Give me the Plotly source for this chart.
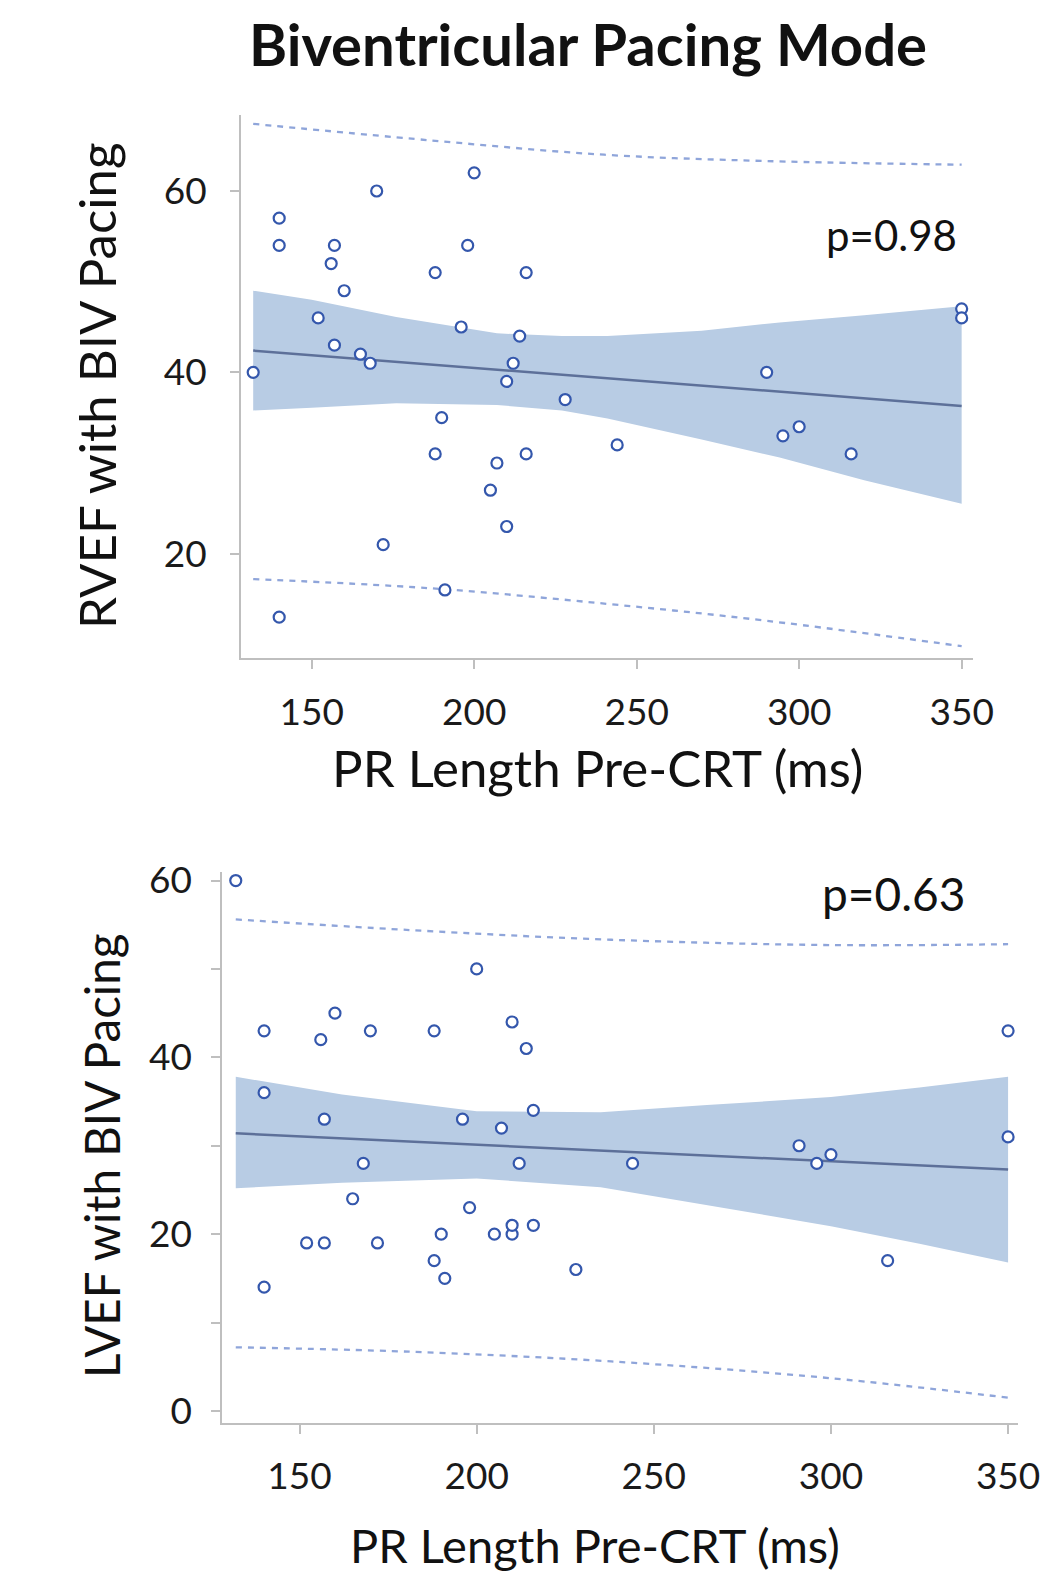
import plotly.graph_objects as go

# ---------------- data ----------------
# Top panel: RVEF vs PR length
pr_top = [132, 140, 140, 170, 200, 157, 156, 198, 188, 216, 160, 152, 196, 214, 157, 165, 168, 212,
          210, 228, 190, 188, 216, 207, 205, 210, 172, 191, 140, 244, 295, 300, 316, 290, 350, 350]
rvef = [40, 57, 54, 60, 62, 54, 52, 54, 51, 51, 49, 46, 45, 44, 43, 42, 41, 41,
        39, 37, 35, 31, 31, 30, 27, 23, 21, 16, 13, 32, 33, 34, 31, 40, 47, 46]
fit_top_x = [132, 350]
fit_top_y = [42.4, 36.3]
band_top_x = [132, 150, 176, 207, 227, 241, 270, 294, 320, 350]
band_top_hi = [49.0, 48.0, 46.1, 44.3, 44.0, 44.0, 44.6, 45.5, 46.3, 47.3]
band_top_lo = [35.8, 36.1, 36.6, 36.4, 35.8, 34.9, 32.6, 30.6, 28.1, 25.5]
pred_top_x = [132, 186, 240, 290, 350]
pred_top_hi = [67.4, 65.6, 64.0, 63.3, 62.9]
pred_top_lo = [17.2, 16.2, 14.5, 12.6, 9.8]

# Bottom panel: LVEF vs PR length
pr_bot = [132, 200, 140, 156, 160, 170, 188, 210, 214, 140, 157, 196, 207, 216, 168, 212, 165, 198, 152,
          157, 172, 190, 205, 210, 210, 216, 188, 191, 140, 228, 244, 291, 296, 300, 316, 350, 350]
lvef = [60, 50, 43, 42, 45, 43, 43, 44, 41, 36, 33, 33, 32, 34, 28, 28, 24, 23, 19,
        19, 19, 20, 20, 20, 21, 21, 17, 15, 14, 16, 28, 30, 28, 29, 17, 31, 43]
fit_bot_x = [132, 350]
fit_bot_y = [31.4, 27.3]
band_bot_x = [132, 162, 200, 235, 265, 300, 325, 350]
band_bot_hi = [37.8, 35.8, 33.9, 33.8, 34.6, 35.5, 36.6, 37.8]
band_bot_lo = [25.2, 25.8, 26.3, 25.3, 23.3, 20.9, 18.9, 16.8]
pred_bot_x = [132, 181, 238, 300, 350]
pred_bot_hi = [55.6, 54.4, 53.3, 52.7, 52.8]
pred_bot_lo = [7.2, 6.7, 5.6, 3.7, 1.5]

x_ticks = [150, 200, 250, 300, 350]
y_ticks_top = [20, 40, 60]
y_ticks_bot = [0, 10, 20, 30, 40, 50, 60]
y_ticktext_bot = ["0", "", "20", "", "40", "", "60"]

# ---------------- layout geometry ----------------
PAGE_W, PAGE_H = 1063, 1582
OX, OY = 8, 8                      # page offset of the figure (body margin)
FW, FH = PAGE_W - 2 * OX, PAGE_H - 2 * OY


def fx(px):
    return (px - OX) / FW


def fy(py):
    return 1 - (py - OY) / FH


MARK = "#3457AC"
BAND = "#B8CCE4"
FIT = "#5D7099"
DASH = "#8FA5DA"
AXC = "#BFBFBF"
FONT = "Lato"

fig = go.Figure()


def add_panel(xa, ya, band_x, hi, lo, fxs, fys, px, phi, plo, xs, ys):
    fig.add_trace(go.Scatter(x=band_x + band_x[::-1], y=hi + lo[::-1], fill="toself",
                             fillcolor=BAND, line=dict(width=0), mode="lines",
                             hoverinfo="skip", showlegend=False, xaxis=xa, yaxis=ya))
    fig.add_trace(go.Scatter(x=fxs, y=fys, mode="lines", line=dict(color=FIT, width=2.5),
                             showlegend=False, xaxis=xa, yaxis=ya))
    for arr in (phi, plo):
        fig.add_trace(go.Scatter(x=px, y=arr, mode="lines",
                                 line=dict(color=DASH, width=2.3, dash="6px,6px", shape="spline"),
                                 showlegend=False, xaxis=xa, yaxis=ya))
    fig.add_trace(go.Scatter(x=xs, y=ys, mode="markers",
                             marker=dict(symbol="circle", size=11, color="white",
                                         line=dict(color=MARK, width=2.2)),
                             showlegend=False, xaxis=xa, yaxis=ya, cliponaxis=False))


add_panel("x", "y", band_top_x, band_top_hi, band_top_lo, fit_top_x, fit_top_y,
          pred_top_x, pred_top_hi, pred_top_lo, pr_top, rvef)
add_panel("x2", "y2", band_bot_x, band_bot_hi, band_bot_lo, fit_bot_x, fit_bot_y,
          pred_bot_x, pred_bot_hi, pred_bot_lo, pr_bot, lvef)

axis_common = dict(showgrid=False, zeroline=False, showline=True, linecolor=AXC, linewidth=2,
                   ticks="outside", ticklen=9, tickwidth=2, tickcolor=AXC, automargin=False,
                   tickfont=dict(family=FONT, size=37, color="#1a1a1a"))

fig.update_layout(
    width=FW, height=FH, margin=dict(l=0, r=0, t=0, b=0), autosize=False,
    paper_bgcolor="white", plot_bgcolor="white", showlegend=False,
    xaxis=dict(domain=[fx(241), fx(972.7)], range=[128.25, 353.4], anchor="y",
               tickvals=x_ticks, ticklabelstandoff=12, **axis_common),
    yaxis=dict(domain=[fy(657.7), fy(115)], range=[8.53, 68.38], anchor="x",
               tickvals=y_ticks_top, ticklabelstandoff=16, **axis_common),
    xaxis2=dict(domain=[fx(222.3), fx(1018)], range=[128.2, 352.8], anchor="y2",
                tickvals=x_ticks, ticklabelstandoff=10, **axis_common),
    yaxis2=dict(domain=[fy(1423.3), fy(871.7)], range=[-1.4, 61.0], anchor="x2",
                tickvals=y_ticks_bot, ticktext=y_ticktext_bot, ticklabelstandoff=12, **axis_common),
)


def ann(text, px, py, size, bold=False, angle=0):
    fig.add_annotation(text=f"<b>{text}</b>" if bold else text, x=fx(px), y=fy(py),
                       xref="paper", yref="paper", showarrow=False, textangle=angle,
                       xanchor="center", yanchor="middle",
                       font=dict(family=FONT, size=size, color="#111111"))


ann("Biventricular Pacing Mode", 588, 44, 58, bold=True)
ann("RVEF with BIV Pacing", 96, 386, 51, angle=-90)
ann("PR Length Pre-CRT (ms)", 597, 767, 51)
ann("p=0.98", 891, 235, 42)
ann("LVEF with BIV Pacing", 101, 1156, 47.5, angle=-90)
ann("PR Length Pre-CRT (ms)", 595, 1545, 47)
ann("p=0.63", 893, 894, 46)

fig.write_html("out.html")
